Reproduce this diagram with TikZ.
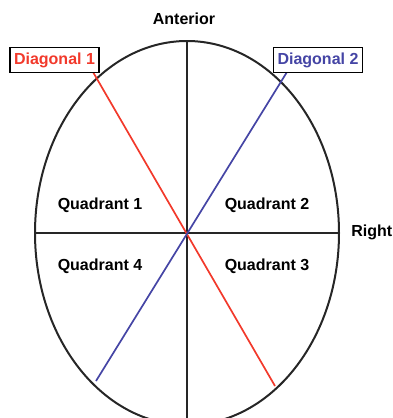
\documentclass[tikz,border=0pt]{standalone}
\usepackage{fontspec}
\setmainfont{Liberation Sans}
\usetikzlibrary{positioning, calc}
\definecolor{diagred}{HTML}{F2392B}
\definecolor{diagblue}{HTML}{4545A5}

\begin{document}
\begin{tikzpicture}[x=1pt, y=-1pt,
    lbl/.style={font=\fontsize{16}{19}\selectfont\bfseries},
    tag/.style={draw=black, fill=white, line width=1.7pt, inner xsep=4pt,
      inner ysep=0pt, minimum height=25pt, font=\fontsize{16}{19}\selectfont\bfseries},
    axis/.style={line width=2pt, black!85},
    diag/.style={line width=1.7pt}]
\useasboundingbox (0,0) rectangle (393,418);
\clip (0,0) rectangle (393,418);
\coordinate (o) at (187,233);
% outline and axes
\draw[axis] (o) ellipse [x radius=152, y radius=192];
\coordinate (top) at (187,41);
\coordinate (bot) at (187,418);
\coordinate (lft) at (35,233);
\coordinate (rgt) at (339,233);
\draw[axis] (top) -- (bot);
\draw[axis] (lft) -- (rgt);
% diagonals
\coordinate (d1a) at (93,72);
\coordinate (d1b) at (275,386);
\coordinate (d2a) at (287,72);
\coordinate (d2b) at (96,381);
\draw[diag, diagred] (d1a) -- (d1b);
\draw[diag, diagblue] (d2a) -- (d2b);
% labels
\node[tag, text=diagred]  (dg1) at (54.5,60) {Diagonal 1};
\node[tag, text=diagblue] (dg2) at (318,60)  {Diagonal 2};
\node[lbl] (ant) at (184,19) {Anterior};
\node[lbl, anchor=east, inner sep=0pt] (rt) at (392.5,232) {Right};
\node[lbl] (q1) at (100,205) {Quadrant 1};
\node[lbl] (q2) at (267,205) {Quadrant 2};
\node[lbl] (q3) at (267,266) {Quadrant 3};
\node[lbl] (q4) at (100,266) {Quadrant 4};
\end{tikzpicture}
\end{document}
